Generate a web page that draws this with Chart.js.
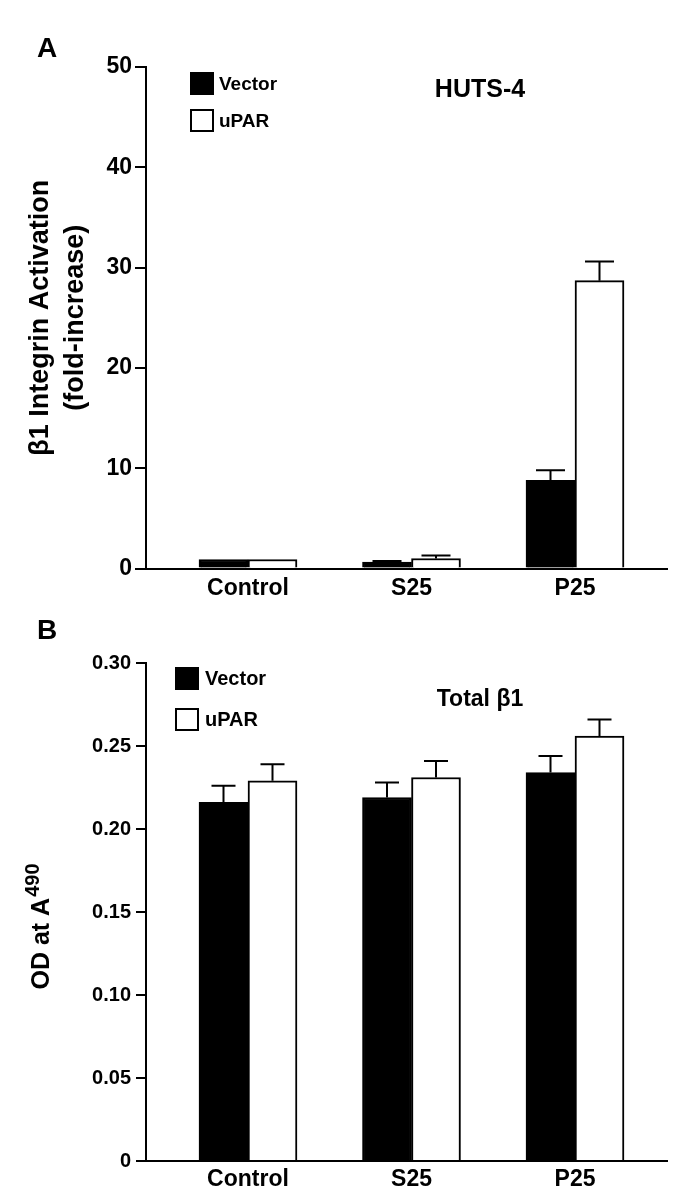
<!DOCTYPE html>
<html><head><meta charset="utf-8">
<script src="https://cdn.jsdelivr.net/npm/chart.js@4.4.0/dist/chart.umd.min.js"></script>
<style>
html,body{margin:0;padding:0;background:#fff;width:685px;height:1202px;overflow:hidden;}
canvas{display:block;position:absolute;left:0;}
#cA{top:0;} #cB{top:600px;}
</style></head><body>
<canvas id="cA" width="685" height="600"></canvas>
<canvas id="cB" width="685" height="602"></canvas>
<script>
// ---- data ----
const categories = ['Control', 'S25', 'P25'];
const seriesNames = ['Vector', 'uPAR'];
// Panel A: beta1 integrin activation (fold-increase), HUTS-4
const aVector = [0.9, 0.65, 8.8];
const aVectorErr = [0, 0.1, 1.0];
const aUpar = [0.9, 1.0, 28.7];
const aUparErr = [0, 0.3, 1.9];
const aTicks = [0, 10, 20, 30, 40, 50];
// Panel B: total beta1, OD at A490
const bVector = [0.216, 0.219, 0.234];
const bVectorErr = [0.010, 0.009, 0.010];
const bUpar = [0.229, 0.231, 0.256];
const bUparErr = [0.010, 0.010, 0.010];
const bTicks = [0, 0.05, 0.10, 0.15, 0.20, 0.25, 0.30];

const FONT = '"Liberation Sans", Arial, Helvetica, sans-serif';
Chart.defaults.font.family = FONT;
Chart.defaults.font.weight = 'bold';
Chart.defaults.color = '#000';

const errorBars = {
  id: 'errorBars',
  afterDatasetsDraw(chart, args, opts) {
    const ctx = chart.ctx, y = chart.scales.y;
    chart.data.datasets.forEach((ds, di) => {
      const meta = chart.getDatasetMeta(di);
      meta.data.forEach((bar, i) => {
        const e = ds.errors[i];
        if (!e) return;
        const v = ds.data[i].y;
        const p0 = y.getPixelForValue(v);
        const p1 = y.getPixelForValue(v + e);
        ctx.save();
        ctx.strokeStyle = '#000';
        ctx.lineWidth = 2;
        ctx.beginPath();
        ctx.moveTo(bar.x, p0); ctx.lineTo(bar.x, p1);
        ctx.moveTo(bar.x - opts.cap / 2, p1); ctx.lineTo(bar.x + opts.cap / 2, p1);
        ctx.stroke();
        ctx.restore();
      });
    });
  }
};

const annotations = {
  id: 'annotations',
  afterDraw(chart, args, o) {
    const ctx = chart.ctx;
    ctx.save();
    ctx.fillStyle = '#000';
    ctx.textBaseline = 'alphabetic';
    // panel letter
    ctx.font = 'bold 28px ' + FONT;
    ctx.textAlign = 'left';
    ctx.fillText(o.letter, o.letterX, o.letterY);
    // inner title
    ctx.font = 'bold ' + o.titleSize + 'px ' + FONT;
    ctx.textAlign = 'center';
    ctx.fillText(o.title, o.titleX, o.titleY);
    // legend from datasets
    chart.data.datasets.forEach((ds, i) => {
      const sy = o.legY + i * o.legGap;
      ctx.fillStyle = ds.backgroundColor;
      ctx.fillRect(o.legX, sy, o.swW, o.swH);
      ctx.strokeStyle = '#000';
      ctx.lineWidth = 2;
      ctx.strokeRect(o.legX + 1, sy + 1, o.swW - 2, o.swH - 2);
      ctx.fillStyle = '#000';
      ctx.font = 'bold ' + o.legSize + 'px ' + FONT;
      ctx.textAlign = 'left';
      ctx.textBaseline = 'middle';
      ctx.fillText(ds.label, o.legX + o.swW + o.legTextGap, sy + o.swH / 2 + 1);
      ctx.textBaseline = 'alphabetic';
    });
    // custom y title with superscript (panel B)
    if (o.yTitle) {
      ctx.translate(o.yTitle.x, o.yTitle.y);
      ctx.rotate(-Math.PI / 2);
      ctx.textBaseline = 'middle';
      ctx.font = 'bold ' + o.yTitle.size + 'px ' + FONT;
      const w1 = ctx.measureText(o.yTitle.main).width;
      ctx.font = 'bold ' + o.yTitle.supSize + 'px ' + FONT;
      const w2 = ctx.measureText(o.yTitle.sup).width;
      const start = -(w1 + w2) / 2;
      ctx.textAlign = 'left';
      ctx.font = 'bold ' + o.yTitle.size + 'px ' + FONT;
      ctx.fillText(o.yTitle.main, start, 0);
      ctx.font = 'bold ' + o.yTitle.supSize + 'px ' + FONT;
      ctx.fillText(o.yTitle.sup, start + w1 + 1, -o.yTitle.size * 0.36);
    }
    ctx.restore();
  }
};

function makeChart(id, cfg) {
  const H = cfg.height;
  const mk = (vals) => vals.map((v, i) => ({ x: i, y: v }));
  return new Chart(document.getElementById(id), {
    type: 'bar',
    data: {
      datasets: [
        { label: seriesNames[0], data: mk(cfg.vector), errors: cfg.vectorErr,
          backgroundColor: '#000', borderColor: '#000', borderWidth: 2 },
        { label: seriesNames[1], data: mk(cfg.upar), errors: cfg.uparErr,
          backgroundColor: '#fff', borderColor: '#000', borderWidth: 2 }
      ]
    },
    options: {
      responsive: false,
      animation: false,
      devicePixelRatio: 1,
      barThickness: 49,
      layout: { padding: { top: cfg.top, right: 685 - 667, left: 0, bottom: 0 } },
      plugins: {
        legend: { display: false },
        tooltip: { enabled: false },
        errorBars: { cap: cfg.cap },
        annotations: cfg.annot
      },
      scales: {
        x: {
          type: 'linear',
          min: (146 - 248) / 163.5,
          max: (667 - 248) / 163.5,
          offset: false,
          afterBuildTicks: (s) => { s.ticks = categories.map((c, i) => ({ value: i })); },
          afterFit: (s) => { s.height = H - cfg.bottom; },
          grid: { display: false, drawTicks: false, offset: false },
          border: { display: true, color: '#000', width: 2 },
          ticks: { callback: (v) => categories[v], autoSkip: false, maxRotation: 0,
                   padding: cfg.xPad, font: { size: 23, weight: 'bold' }, color: '#000' }
        },
        y: {
          min: 0, max: cfg.ymax,
          afterBuildTicks: (s) => { s.ticks = cfg.ticks.map(v => ({ value: v })); },
          afterFit: (s) => { s.width = 146; },
          grid: { drawOnChartArea: false, drawTicks: true, tickLength: cfg.tickLen, color: '#000', lineWidth: 2 },
          border: { display: true, color: '#000', width: 2 },
          ticks: { callback: cfg.fmt, padding: cfg.tickPad, font: { size: cfg.tickSize, weight: 'bold' }, color: '#000' },
          title: cfg.yTitle
        }
      }
    },
    plugins: [errorBars, annotations]
  });
}

makeChart('cA', {
  height: 600, top: 67, bottom: 568.5, cap: 29, xPad: 6,
  vector: aVector, vectorErr: aVectorErr, upar: aUpar, uparErr: aUparErr,
  ymax: 50, ticks: aTicks, fmt: (v) => String(v), tickLen: 11, tickPad: 3, tickSize: 23,
  yTitle: { display: true, text: ['\u03B21 Integrin Activation', '(fold-increase)'],
            font: { size: 27, weight: 'bold', lineHeight: 1.3 }, padding: { top: 23, bottom: 0 }, color: '#000' },
  annot: { letter: 'A', letterX: 37, letterY: 57, title: 'HUTS-4', titleSize: 25, titleX: 480, titleY: 97,
           legX: 190, legY: 72, legGap: 37, swW: 24, swH: 23, legSize: 19, legTextGap: 5 }
});

makeChart('cB', {
  height: 602, top: 63, bottom: 561, cap: 24, xPad: 5,
  vector: bVector, vectorErr: bVectorErr, upar: bUpar, uparErr: bUparErr,
  ymax: 0.30, ticks: bTicks, fmt: (v) => (v === 0 ? '0' : v.toFixed(2)), tickLen: 10, tickPad: 5, tickSize: 20,
  yTitle: { display: false },
  annot: { letter: 'B', letterX: 37, letterY: 39, title: 'Total \u03B21', titleSize: 23, titleX: 480, titleY: 106,
           legX: 175, legY: 67, legGap: 41, swW: 24, swH: 23, legSize: 20, legTextGap: 6,
           yTitle: { x: 42, y: 927 - 600, main: 'OD at A', sup: '490', size: 25, supSize: 20 } }
});
</script>
</body></html>
